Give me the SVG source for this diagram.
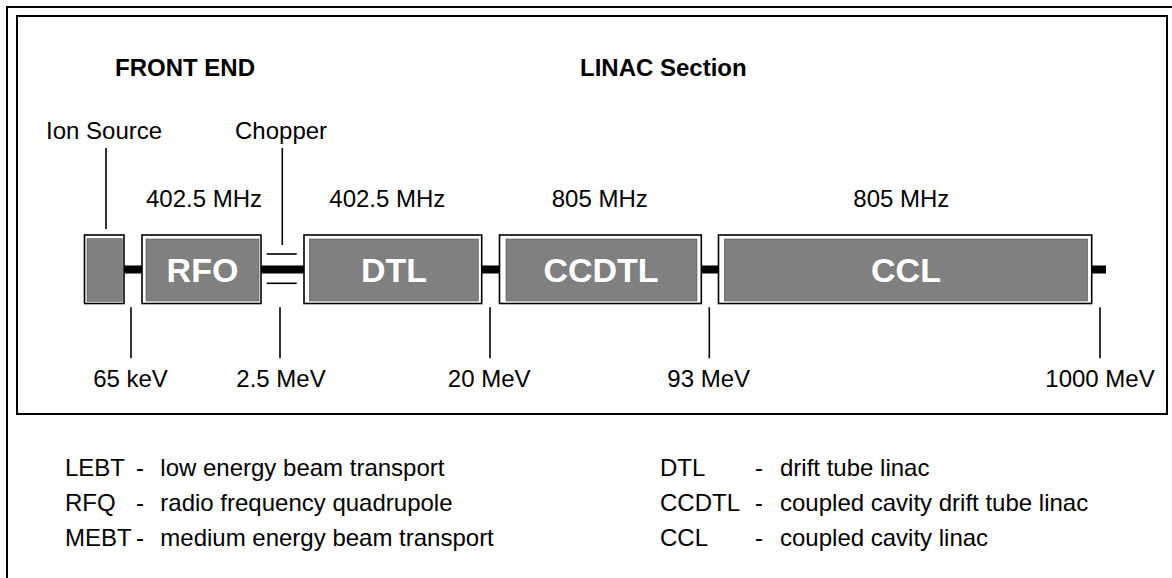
<svg xmlns="http://www.w3.org/2000/svg" width="1172" height="578" viewBox="0 0 1172 578">
<style>
text{font-family:"Liberation Sans",Arial,sans-serif;font-size:24px;fill:#000}
.b{font-weight:bold}
.lbl{font-weight:bold;font-size:34px;fill:#fff;text-anchor:middle}
.mid{text-anchor:middle}
.frame{fill:none;stroke:#000;stroke-width:2}
.box{fill:#fff;stroke:#000;stroke-width:1.6}
.core{fill:#808080;stroke:#555;stroke-width:0.6}
.ln{stroke:#000;stroke-width:1.6;fill:none}
</style>
<rect x="0" y="0" width="1172" height="578" fill="#fff"/>
<g id="frame">
<rect class="frame" x="7" y="7" width="1180" height="590"/>
<rect class="frame" x="17" y="16" width="1150" height="398"/>
</g>
<g id="titles">
<text class="b" x="115" y="76">FRONT END</text>
<text class="b" x="580" y="76">LINAC Section</text>
</g>
<g id="connectors">
<rect x="124" y="265.5" width="982" height="8" fill="#000"/>
<line class="ln" x1="106" y1="148" x2="106" y2="229"/>
<line class="ln" x1="282.3" y1="148" x2="282.3" y2="245"/>
<line class="ln" x1="266.7" y1="254" x2="296.7" y2="254"/>
<line class="ln" x1="266.7" y1="283.3" x2="296.7" y2="283.3"/>
<line class="ln" x1="131" y1="307.3" x2="131" y2="358.3"/>
<line class="ln" x1="280" y1="307.3" x2="280" y2="358.3"/>
<line class="ln" x1="490" y1="307.3" x2="490" y2="358.3"/>
<line class="ln" x1="709.3" y1="307.3" x2="709.3" y2="358.3"/>
<line class="ln" x1="1100" y1="307.3" x2="1100" y2="358.3"/>
</g>
<g id="ion-source">
<rect class="box" x="84.5" y="235" width="39.5" height="68.5"/>
<rect class="core" x="87" y="238.7" width="35.3" height="62.6"/>
<text x="46" y="139.3">Ion Source</text>
</g>
<g id="chopper">
<text x="235" y="139.3">Chopper</text>
</g>
<g id="rfo">
<rect class="box" x="142" y="235" width="119" height="68.5"/>
<rect class="core" x="146" y="239" width="113" height="62"/>
<text class="lbl" x="202.5" y="282.3">RFO</text>
<text x="146" y="207.3">402.5 MHz</text>
</g>
<g id="dtl">
<rect class="box" x="304" y="235" width="177.7" height="68.5"/>
<rect class="core" x="309.3" y="239" width="169" height="62"/>
<text class="lbl" x="394" y="282.3">DTL</text>
<text x="329.3" y="207.3">402.5 MHz</text>
</g>
<g id="ccdtl">
<rect class="box" x="499.5" y="235" width="201.8" height="68.5"/>
<rect class="core" x="506" y="239" width="191" height="62"/>
<text class="lbl" x="601" y="282.3">CCDTL</text>
<text x="551.7" y="207.3">805 MHz</text>
</g>
<g id="ccl">
<rect class="box" x="718.5" y="235" width="373.2" height="68.5"/>
<rect class="core" x="724.3" y="239" width="363.4" height="62"/>
<text class="lbl" x="906" y="282.3">CCL</text>
<text x="853.3" y="207.3">805 MHz</text>
</g>
<g id="energies">
<text class="mid" x="130.5" y="387.3">65 keV</text>
<text class="mid" x="281" y="387.3">2.5 MeV</text>
<text class="mid" x="489.2" y="387.3">20 MeV</text>
<text class="mid" x="708.7" y="387.3">93 MeV</text>
<text class="mid" x="1100" y="387.3">1000 MeV</text>
</g>
<g id="legend">
<text x="65" y="476">LEBT</text><text x="136" y="476">-</text><text x="160.3" y="476">low energy beam transport</text>
<text x="65" y="511">RFQ</text><text x="136" y="511">-</text><text x="160.3" y="511">radio frequency quadrupole</text>
<text x="65" y="546">MEBT</text><text x="136" y="546">-</text><text x="160.3" y="546">medium energy beam transport</text>
<text x="660" y="476">DTL</text><text x="755" y="476">-</text><text x="780" y="476">drift tube linac</text>
<text x="660" y="511">CCDTL</text><text x="755" y="511">-</text><text x="780" y="511">coupled cavity drift tube linac</text>
<text x="660" y="546">CCL</text><text x="755" y="546">-</text><text x="780" y="546">coupled cavity linac</text>
</g>
</svg>
